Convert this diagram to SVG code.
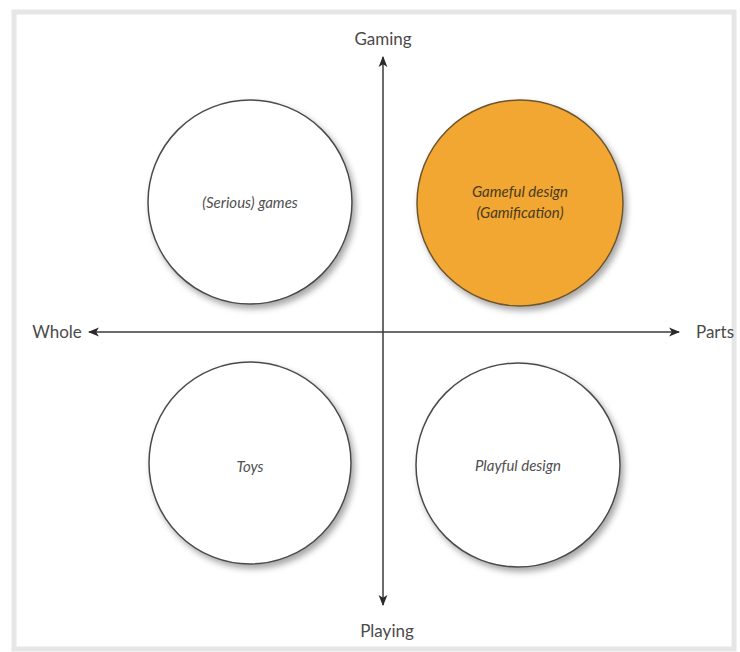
<svg xmlns="http://www.w3.org/2000/svg" width="740" height="652" viewBox="0 0 740 652">
<style>
.axis{stroke:#3a3a3a;stroke-width:1.5;fill:none}
.lbl{font-family:Lato,"Open Sans","Liberation Sans",sans-serif;font-size:17px;fill:#4a4a4a;text-anchor:middle}
.clbl{font-family:Lato,"Open Sans","Liberation Sans",sans-serif;font-size:15px;font-style:italic;fill:#505050;text-anchor:middle}
.circ{fill:#ffffff;stroke:#4a4a4a;stroke-width:1.5;filter:url(#sh)}
.orange{fill:#f2a730;stroke:#6e5430;stroke-width:1.5;filter:url(#sh)}
</style>
<defs>
<filter id="sh" x="-20%" y="-20%" width="140%" height="140%">
<feDropShadow dx="3" dy="4" stdDeviation="3" flood-color="#000" flood-opacity="0.35"/>
</filter>
<marker id="ah" viewBox="0 0 10 10" refX="9" refY="5" markerWidth="11" markerHeight="11" orient="auto-start-reverse" markerUnits="userSpaceOnUse">
<path d="M0,1 L10,5 L0,9 L2.5,5 Z" fill="#2a2a2a"/>
</marker>
</defs>
<rect x="0" y="0" width="740" height="652" fill="#ffffff"/>
<rect x="14" y="12" width="720" height="637" fill="#ffffff" stroke="#e6e6e6" stroke-width="5"/>
<g id="connectors">
<line class="axis" x1="383" y1="605" x2="383" y2="57" marker-start="url(#ah)" marker-end="url(#ah)"/>
<line class="axis" x1="89" y1="332" x2="679" y2="332" marker-start="url(#ah)" marker-end="url(#ah)"/>
</g>
<g id="serious-games">
<circle class="circ" cx="250" cy="202" r="102"/>
<text class="clbl" x="250" y="208">(Serious) games</text>
</g>
<g id="gameful-design">
<circle class="orange" cx="520" cy="203" r="103"/>
<text class="clbl" x="520" y="197" style="fill:#4a3a20">Gameful design</text>
<text class="clbl" x="520" y="218" style="fill:#4a3a20">(Gamification)</text>
</g>
<g id="toys">
<circle class="circ" cx="250" cy="463" r="101"/>
<text class="clbl" x="250" y="472">Toys</text>
</g>
<g id="playful-design">
<circle class="circ" cx="518" cy="465" r="102"/>
<text class="clbl" x="518" y="471">Playful design</text>
</g>
<g id="labels">
<text class="lbl" x="383" y="45">Gaming</text>
<text class="lbl" x="387" y="637">Playing</text>
<text class="lbl" x="57" y="338">Whole</text>
<text class="lbl" x="715" y="338">Parts</text>
</g>
</svg>
